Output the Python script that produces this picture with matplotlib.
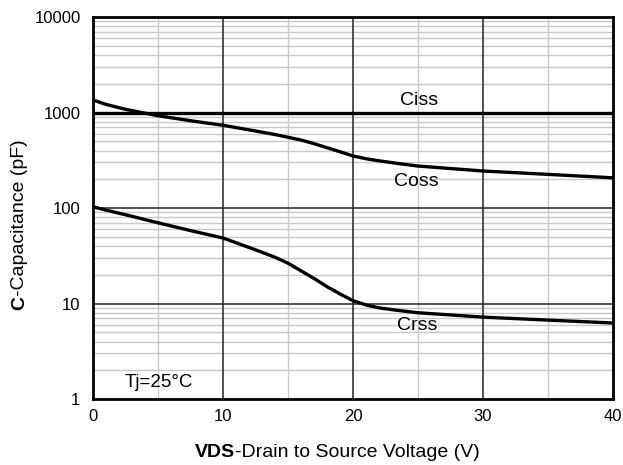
import matplotlib
matplotlib.use("Agg")
import matplotlib.pyplot as plt
from matplotlib.ticker import FixedLocator, NullFormatter, LogLocator
from matplotlib.offsetbox import TextArea, HPacker, AnchoredOffsetbox

plt.rcParams['font.family'] = ['Liberation Sans', 'DejaVu Sans']

vds = [0, 1, 2.5, 5, 7.5, 10, 12.5, 14, 15, 16, 17, 18, 19, 20, 21, 22, 23.5, 25, 30, 35, 40]
ciss = [1000] * len(vds)
coss = [1352, 1215, 1080, 925, 820, 735, 640, 588, 550, 515, 472, 428, 388, 351, 328, 312, 292, 275, 244, 225, 207]
crss = [103, 95, 85, 70, 58, 48.5, 36.5, 30.5, 26.4, 22, 18.3, 15.0, 12.6, 10.7, 9.65, 9.0, 8.45, 8.0, 7.2, 6.7, 6.25]

xticks = [0, 10, 20, 30, 40]
yticks = [1, 10, 100, 1000, 10000]

W, H = 623, 465
fig = plt.figure(figsize=(W / 100, H / 100), dpi=100)
ax = fig.add_axes([93 / W, 1 - 399 / H, 520 / W, 382 / H])

ax.set_yscale('log')
ax.set_xlim(0, 40)
ax.set_ylim(1, 10000)

ax.xaxis.set_major_locator(FixedLocator(xticks))
ax.xaxis.set_minor_locator(FixedLocator([5, 15, 25, 35]))
ax.yaxis.set_major_locator(FixedLocator(yticks))
ax.yaxis.set_minor_locator(LogLocator(base=10, subs=range(2, 10)))
ax.yaxis.set_minor_formatter(NullFormatter())
ax.set_xticklabels([str(t) for t in xticks])
ax.set_yticklabels([str(t) for t in yticks])

ax.grid(which='minor', color='#c8c8c8', linewidth=1.0)
ax.set_axisbelow(True)
for t in xticks[1:-1]:
    ax.axvline(t, color='#222222', linewidth=1.1, zorder=1)
for t in yticks[1:-1]:
    ax.axhline(t, color='#222222', linewidth=1.1, zorder=1)
ax.tick_params(which='both', length=0, labelsize=12)
ax.tick_params(axis='x', pad=7)
ax.tick_params(axis='y', pad=9)

for s in ax.spines.values():
    s.set_linewidth(2)
    s.set_color('black')
    s.set_zorder(3)

for ys in (ciss, coss, crss):
    ax.plot(vds, ys, color='black', linewidth=2.4, solid_capstyle='butt',
            solid_joinstyle='round', zorder=2)

ax.text(25.1, 1320, 'Ciss', fontsize=14, ha='center', va='center')
ax.text(24.9, 188, 'Coss', fontsize=14, ha='center', va='center')
ax.text(24.9, 5.85, 'Crss', fontsize=14, ha='center', va='center')
ax.text(2.4, 1.49, 'Tj=25°C', fontsize=13.5, ha='left', va='center')

# x label: bold "VDS" + regular rest
xb = HPacker(children=[TextArea('VDS', textprops=dict(fontsize=14, fontweight='bold')),
                       TextArea('-Drain to Source Voltage (V)', textprops=dict(fontsize=14))],
             align='baseline', pad=0, sep=0)
ab = AnchoredOffsetbox(loc='center', child=xb, bbox_to_anchor=(337 / W, 1 - 452 / H),
                       bbox_transform=fig.transFigure, frameon=False, pad=0, borderpad=0)
fig.add_artist(ab)

# y label: bold "C" + regular rest, rotated
t1 = fig.text(20 / W, 1 - 310 / H, 'C', fontsize=14, fontweight='bold',
              rotation=90, ha='center', va='bottom')
fig.canvas.draw()
r = fig.canvas.get_renderer()
bb = t1.get_window_extent(r)
fig.text(20 / W, bb.y1 / H, '-Capacitance (pF)', fontsize=14, rotation=90,
         ha='center', va='bottom')

fig.savefig('out.png', dpi=100)
